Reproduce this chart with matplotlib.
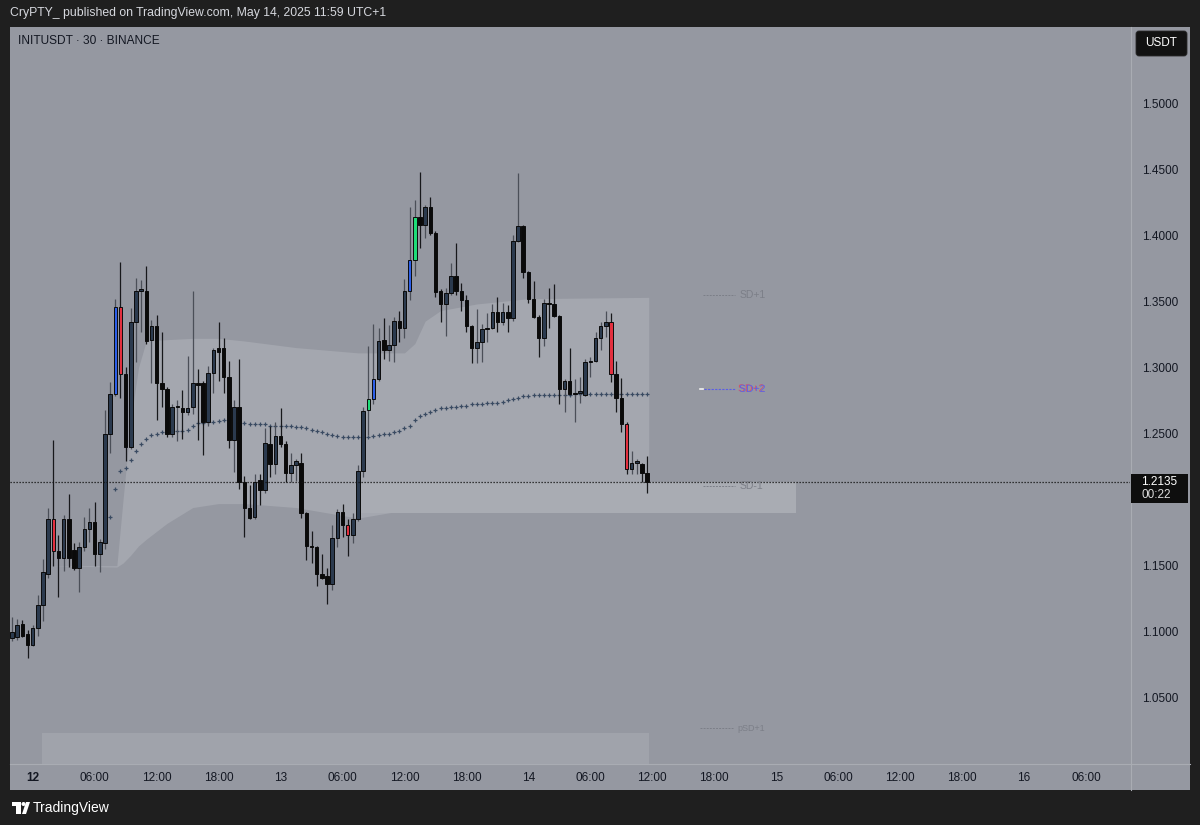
#!/usr/bin/env python3
import numpy as np
import matplotlib
matplotlib.use('Agg')
from matplotlib import pyplot as plt
from matplotlib import patheffects as pe
from matplotlib.patches import Rectangle, FancyBboxPatch, Circle, Polygon
from matplotlib.transforms import Affine2D

plt.rcParams['font.family'] = ['Liberation Sans', 'DejaVu Sans']

# 30m candles, INITUSDT, from May 11 22:00 to May 14 11:30
opens = [1.095, 1.096, 1.106, 1.098, 1.090, 1.103, 1.120, 1.144, 1.185, 1.161,
         1.156, 1.185, 1.162, 1.148, 1.164, 1.178, 1.183, 1.159, 1.167, 1.250,
         1.280, 1.346, 1.295, 1.240, 1.334, 1.358, 1.358, 1.321, 1.331, 1.288,
         1.284, 1.250, 1.270, 1.269, 1.266, 1.270, 1.288, 1.288, 1.259, 1.296,
         1.315, 1.315, 1.293, 1.245, 1.270, 1.213, 1.194, 1.187, 1.215, 1.207,
         1.242, 1.227, 1.248, 1.242, 1.220, 1.226, 1.228, 1.190, 1.165, 1.164,
         1.144, 1.142, 1.136, 1.171, 1.191, 1.181, 1.173, 1.185, 1.222, 1.268,
         1.276, 1.291, 1.321, 1.313, 1.317, 1.335, 1.330, 1.358, 1.381, 1.414,
         1.408, 1.421, 1.402, 1.358, 1.348, 1.356, 1.369, 1.358, 1.351, 1.331,
         1.315, 1.319, 1.329, 1.330, 1.342, 1.334, 1.342, 1.337, 1.396, 1.407,
         1.372, 1.352, 1.338, 1.322, 1.349, 1.348, 1.339, 1.284, 1.290, 1.280,
         1.281, 1.279, 1.304, 1.305, 1.322, 1.331, 1.334, 1.295, 1.277, 1.257,
         1.223, 1.228, 1.227, 1.220]
highs = [1.111, 1.110, 1.109, 1.101, 1.105, 1.128, 1.155, 1.194, 1.245, 1.173,
         1.188, 1.204, 1.167, 1.168, 1.187, 1.194, 1.198, 1.170, 1.268, 1.289,
         1.352, 1.380, 1.300, 1.345, 1.368, 1.366, 1.377, 1.336, 1.340, 1.327,
         1.285, 1.272, 1.275, 1.283, 1.309, 1.358, 1.299, 1.290, 1.301, 1.315,
         1.334, 1.322, 1.305, 1.275, 1.306, 1.218, 1.211, 1.219, 1.219, 1.254,
         1.256, 1.259, 1.269, 1.244, 1.235, 1.231, 1.235, 1.191, 1.176, 1.165,
         1.159, 1.148, 1.181, 1.193, 1.197, 1.185, 1.190, 1.226, 1.270, 1.316,
         1.333, 1.330, 1.337, 1.332, 1.338, 1.343, 1.367, 1.421, 1.427, 1.448,
         1.423, 1.429, 1.403, 1.359, 1.360, 1.379, 1.394, 1.364, 1.355, 1.332,
         1.344, 1.333, 1.341, 1.348, 1.353, 1.349, 1.347, 1.400, 1.447, 1.408,
         1.373, 1.365, 1.340, 1.352, 1.360, 1.363, 1.340, 1.291, 1.315, 1.291,
         1.293, 1.306, 1.308, 1.327, 1.334, 1.343, 1.341, 1.305, 1.292, 1.259,
         1.237, 1.231, 1.228, 1.233]
lows = [1.093, 1.094, 1.096, 1.080, 1.089, 1.097, 1.108, 1.141, 1.150, 1.126,
        1.146, 1.149, 1.147, 1.130, 1.161, 1.168, 1.150, 1.145, 1.163, 1.235,
        1.278, 1.277, 1.229, 1.238, 1.304, 1.327, 1.318, 1.288, 1.260, 1.270,
        1.247, 1.247, 1.244, 1.246, 1.264, 1.265, 1.245, 1.234, 1.256, 1.281,
        1.290, 1.281, 1.239, 1.221, 1.208, 1.172, 1.185, 1.185, 1.196, 1.205,
        1.217, 1.219, 1.240, 1.213, 1.213, 1.214, 1.186, 1.154, 1.152, 1.135,
        1.140, 1.121, 1.132, 1.164, 1.172, 1.157, 1.167, 1.184, 1.217, 1.249,
        1.272, 1.290, 1.306, 1.305, 1.304, 1.319, 1.322, 1.351, 1.369, 1.390,
        1.398, 1.400, 1.353, 1.334, 1.324, 1.355, 1.355, 1.343, 1.327, 1.303,
        1.303, 1.304, 1.319, 1.329, 1.327, 1.332, 1.327, 1.335, 1.395, 1.368,
        1.349, 1.337, 1.308, 1.316, 1.330, 1.338, 1.272, 1.266, 1.279, 1.259,
        1.273, 1.278, 1.293, 1.304, 1.313, 1.323, 1.289, 1.266, 1.251, 1.219,
        1.219, 1.219, 1.213, 1.205]
closes = [1.100, 1.105, 1.097, 1.090, 1.103, 1.120, 1.145, 1.185, 1.161, 1.156,
          1.185, 1.156, 1.148, 1.164, 1.178, 1.183, 1.159, 1.168, 1.250, 1.280,
          1.346, 1.295, 1.240, 1.334, 1.358, 1.359, 1.320, 1.331, 1.288, 1.284,
          1.250, 1.270, 1.270, 1.266, 1.269, 1.288, 1.287, 1.259, 1.296, 1.313,
          1.312, 1.293, 1.245, 1.270, 1.213, 1.194, 1.186, 1.213, 1.207, 1.243,
          1.227, 1.248, 1.242, 1.220, 1.226, 1.229, 1.190, 1.165, 1.164, 1.144,
          1.141, 1.136, 1.171, 1.191, 1.181, 1.173, 1.185, 1.222, 1.267, 1.276,
          1.291, 1.320, 1.313, 1.317, 1.335, 1.330, 1.358, 1.381, 1.414, 1.408,
          1.421, 1.402, 1.357, 1.348, 1.356, 1.369, 1.358, 1.351, 1.331, 1.315,
          1.319, 1.329, 1.330, 1.342, 1.334, 1.342, 1.337, 1.396, 1.407, 1.372,
          1.352, 1.338, 1.322, 1.349, 1.348, 1.339, 1.284, 1.290, 1.280, 1.281,
          1.281, 1.304, 1.305, 1.322, 1.331, 1.334, 1.295, 1.277, 1.257, 1.223,
          1.228, 1.228, 1.220, 1.2135]

blue_bars = [20, 70, 77]
red_bars = [8, 21, 65, 116, 119]
green_bars = [69, 78]

# anchored vwap (dotted), starts at bar 19
vwap_start = 19
vwap = [1.187, 1.208, 1.222, 1.224, 1.230, 1.237, 1.242, 1.246, 1.249, 1.250,
        1.251, 1.251, 1.252, 1.252, 1.252, 1.253, 1.256, 1.258, 1.258, 1.259,
        1.259, 1.2595, 1.260, 1.260, 1.259, 1.258, 1.258, 1.257, 1.257, 1.257,
        1.257, 1.256, 1.256, 1.256, 1.256, 1.256, 1.255, 1.255, 1.254, 1.253,
        1.252, 1.251, 1.250, 1.249, 1.248, 1.247, 1.247, 1.247, 1.247, 1.247,
        1.247, 1.248, 1.249, 1.250, 1.250, 1.251, 1.252, 1.254, 1.256, 1.260,
        1.263, 1.265, 1.266, 1.268, 1.269, 1.269, 1.270, 1.270, 1.271, 1.271,
        1.272, 1.272, 1.272, 1.273, 1.273, 1.273, 1.274, 1.275, 1.276, 1.277,
        1.278, 1.278, 1.279, 1.279, 1.279, 1.279, 1.279, 1.279, 1.279, 1.279,
        1.280, 1.280, 1.280, 1.280, 1.280, 1.280, 1.280, 1.280, 1.280, 1.280,
        1.280, 1.280, 1.280, 1.280, 1.280]

# shaded band
band_x = [5.8, 20.3, 21.5, 23, 24.5, 26, 30, 35, 40, 45, 55, 67, 76, 78, 80, 83, 90, 100, 123.3]
band_up = [1.150, 1.150, 1.200, 1.260, 1.300, 1.320, 1.321, 1.322, 1.322, 1.320, 1.315,
           1.311, 1.311, 1.318, 1.335, 1.343, 1.348, 1.352, 1.353]
band_lo = [1.150, 1.149, 1.152, 1.158, 1.165, 1.170, 1.182, 1.194, 1.197, 1.197, 1.194,
           1.186, 1.192, 1.193, 1.193, 1.194, 1.197, 1.201, 1.209]
zone_bars = [67.3, 151.8]
zone_prices = [1.1899, 1.2133]
strip_bars = [5.8, 123.3]
strip_top = 1.0234

last_price = 1.2135
countdown = '00:22'

level_names = ['SD+1', 'SD+2', 'SD-1', 'pSD+1']
level_prices = [1.3548, 1.2837, 1.2103, 1.0272]

price_ticks = [1.05, 1.10, 1.15, 1.20, 1.25, 1.30, 1.35, 1.40, 1.45, 1.50]
price_tick_labels = ['1.0500', '1.1000', '1.1500', '', '1.2500', '1.3000', '1.3500',
                     '1.4000', '1.4500', '1.5000']
time_ticks = list(range(4, 209, 12))
time_labels = ['12', '06:00', '12:00', '18:00', '13', '06:00', '12:00', '18:00', '14',
               '06:00', '12:00', '18:00', '15', '06:00', '12:00', '18:00', '16', '06:00']

BG = '#9598a1'
FRAME = '#1f1f1f'


def main():
    fig = plt.figure(figsize=(12, 8.25), dpi=100)
    fig.patch.set_facecolor(FRAME)
    px = Affine2D().scale(1 / 1200, -1 / 825).translate(0, 1) + fig.transFigure

    # gray panel (chart + axes strips)
    fig.add_artist(Rectangle((10, 27), 1180, 763, transform=px, facecolor=BG,
                             edgecolor='none', zorder=0))

    ax = fig.add_axes([10 / 1200, 62 / 825, 1120 / 1200, 736 / 825])
    ax.set_facecolor(BG)
    for s in ax.spines.values():
        s.set_visible(False)
    ax.set_xlim(-0.39, 216.5)
    ax.set_ylim(1.00076, 1.5575)

    # band + zones
    ax.fill_between(band_x, band_lo, band_up, color='#a4a7af', lw=0, zorder=1)
    ax.fill_between(strip_bars, 0.9, strip_top, color='#a0a3ab', lw=0, zorder=1)
    ax.fill_between(zone_bars, zone_prices[0], zone_prices[1], color='#a9acb3', lw=0,
                    zorder=1.2)

    # vwap dots
    vx = np.arange(vwap_start, vwap_start + len(vwap))
    ax.scatter(vx, vwap, marker='+', s=5, linewidths=0.9, color='#3a4b62', zorder=2)

    # candles
    o = np.array(opens); h = np.array(highs); l = np.array(lows); c = np.array(closes)
    idx = np.arange(len(o))
    cols = np.where(c >= o, '#2b3a4e', '#0a0a0a').astype(object)
    wick = np.where(c >= o, '#4b4f58', '#17181b').astype(object)
    for i in blue_bars:
        cols[i] = '#2d5fe8'
    for i in red_bars:
        cols[i] = '#e3303f'
    for i in green_bars:
        cols[i] = '#1fdc78'
    bottoms = np.minimum(o, c)
    heights = np.maximum(np.abs(c - o), 0.0009)
    ax.vlines(idx, l, h, colors=list(wick), lw=0.9, zorder=3)
    ax.bar(idx, heights, bottom=bottoms, width=0.68, color=list(cols),
           edgecolor='#0b0b0b', linewidth=0.7, zorder=4)

    # last price dotted line
    ax.axhline(last_price, color='#111111', lw=0.9, ls=(0, (1, 1.4)), zorder=5)

    # level labels on the right
    lvl_col = '#7c7f88'
    for name, p in zip(level_names, level_prices):
        if name == 'SD+2':
            ax.plot([133.3, 133.9], [p, p], color='#f0f0f0', lw=1.2, zorder=5)
            ax.plot([134, 140.2], [p, p], color='#5b5ee6', lw=0.8, ls=(0, (2, 1.2)), zorder=5)
            ax.text(140.8, p, 'SD+2', color='#5b62e8', fontsize=7.5, va='center', zorder=6,
                    path_effects=[pe.withSimplePatchShadow(offset=(-0.8, 0.3),
                                                           shadow_rgbFace='#e0485c',
                                                           alpha=0.9)])
        elif name == 'pSD+1':
            ax.plot([133.2, 139.6], [p, p], color=lvl_col, lw=0.7, ls=(0, (2, 1.2)), zorder=5)
            ax.text(140.5, p, name, color=lvl_col, fontsize=6.5, va='center', zorder=6)
        else:
            ax.plot([133.8, 140.0], [p, p], color=lvl_col, lw=0.7, ls=(0, (2, 1.2)), zorder=5)
            ax.text(140.8, p, name, color=lvl_col, fontsize=7.5, va='center', zorder=6)

    # axes ticks
    ax.yaxis.tick_right()
    ax.set_yticks(price_ticks)
    ax.set_yticklabels(price_tick_labels)
    ax.tick_params(axis='y', length=0, pad=8.6, labelsize=8.5, labelcolor='#131722')
    ax.set_xticks(time_ticks)
    ax.set_xticklabels(time_labels)
    ax.tick_params(axis='x', length=0, pad=6.5, labelsize=8.5, labelcolor='#131722')
    ax.get_xticklabels()[0].set_fontweight('bold')

    # separators
    sep = '#a9acb3'
    fig.add_artist(plt.Line2D([10, 1190], [763.5, 763.5], transform=px, color=sep, lw=0.8))
    fig.add_artist(plt.Line2D([1131, 1131], [27, 790], transform=px, color=sep, lw=0.8))

    # last price label
    fig.add_artist(Rectangle((1131, 474), 57, 29, transform=px, facecolor='#0e0e0e',
                             edgecolor='none', zorder=6))
    fig.text(1141, 482, f'{last_price:.4f}', transform=px, color='white', fontsize=8.5,
             va='center', ha='left', zorder=7)
    fig.text(1141, 495, countdown, transform=px, color='#dddddd', fontsize=8.5,
             va='center', ha='left', zorder=7)

    # USDT box
    fig.add_artist(FancyBboxPatch((1136, 31), 51, 25, boxstyle='round,pad=0,rounding_size=3',
                                  transform=px, facecolor='#121212', edgecolor='#2a2a2a',
                                  lw=0.6, zorder=6))
    fig.text(1161.5, 43.5, 'USDT', transform=px, color='white', fontsize=8.5,
             va='center', ha='center', zorder=7)

    # header texts
    fig.text(10, 13, 'CryPTY_ published on TradingView.com, May 14, 2025 11:59 UTC+1',
             transform=px, color='#d6d8de', fontsize=8.8, va='center', ha='left')
    fig.text(18, 41, 'INITUSDT \u00b7 30 \u00b7 BINANCE', transform=px, color='#131722',
             fontsize=8.6, va='center', ha='left')

    # TradingView logo
    fig.add_artist(Rectangle((12, 802), 9, 4, transform=px, facecolor='white', edgecolor='none'))
    fig.add_artist(Rectangle((16, 802), 5, 12, transform=px, facecolor='white', edgecolor='none'))
    fig.add_artist(Circle((23.5, 804), 2, transform=px, facecolor='white', edgecolor='none'))
    fig.add_artist(Polygon([(26, 802), (30, 802), (26, 814), (22, 814)], transform=px,
                           facecolor='white', edgecolor='none'))
    fig.text(33, 808, 'TradingView', transform=px, color='white', fontsize=10,
             va='center', ha='left')

    plt.savefig('out.png', dpi=100, facecolor=fig.get_facecolor())
    plt.clf()


if __name__ == '__main__':
    main()
